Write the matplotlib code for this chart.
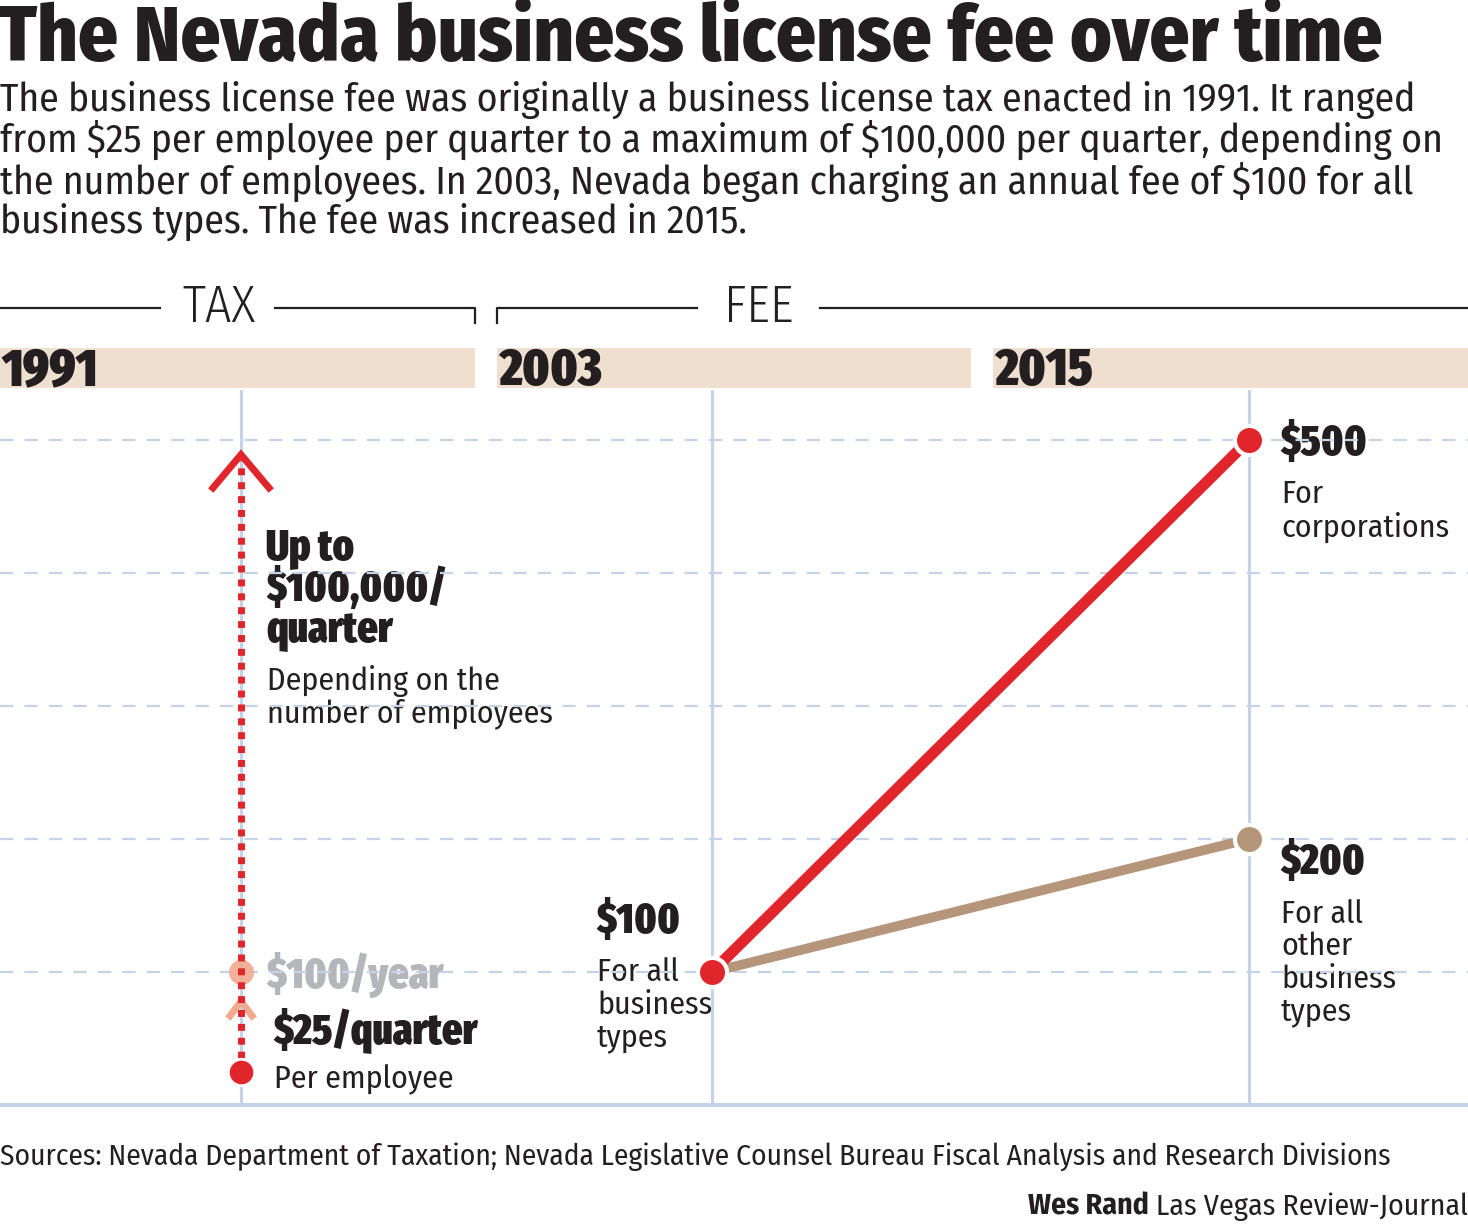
import matplotlib
matplotlib.use("Agg")
import matplotlib.pyplot as plt

# condensed faces with fallbacks
BODY = ["Fira Sans Condensed", "Roboto Condensed", "DejaVu Sans"]
BLACK = ["Fira Sans Extra Condensed", "Roboto Condensed", "DejaVu Sans"]
plt.rcParams["font.family"] = BODY

# ---- data ----
periods = ["1991", "2003", "2015"]
tax_low = 25          # $ per employee per quarter
fee_2003 = 100
fee_2015_corp = 500
fee_2015_other = 200
grid_values = [100, 200, 300, 400, 500]

# layout (pixels)
W, H = 1468, 1229
col_x = [241, 712, 1249]
RED = "#e0262a"
TAN = "#b5967a"
GRID = "#c5d3e8"
BEIGE = "#efdfcf"
INK = "#231f20"

fig = plt.figure(figsize=(W / 100, H / 100), dpi=100)
deco = fig.add_axes([0, 0, 1, 1])
deco.set_xlim(0, W)
deco.set_ylim(H, 0)
deco.axis("off")

# chart axes: y pixel 390 .. 1105, 133 px per $100
top_px, bot_px = 390, 1105
ax = fig.add_axes([0, 1 - bot_px / H, 1, (bot_px - top_px) / H])
ax.set_xlim(0, W)
ax.set_ylim(0, (bot_px - top_px) / 1.33)
ax.axis("off")

# ---- title block ----
deco.text(-2, 61, "The Nevada business license fee over time", fontsize=56.5,
          fontweight=800, family=BODY, color=INK, va="baseline", ha="left")
sub = ("The business license fee was originally a business license tax enacted in 1991. It ranged\n"
       "from \\$25 per employee per quarter to a maximum of \\$100,000 per quarter, depending on\n"
       "the number of employees. In 2003, Nevada began charging an annual fee of \\$100 for all\n"
       "business types. The fee was increased in 2015.")
deco.text(0, 161, sub, fontsize=28.5, color=INK, va="center", ha="left", linespacing=1.035)

# TAX / FEE header
hy = 308
deco.plot([0, 160], [hy, hy], color=INK, lw=1.6)
deco.plot([275, 475, 475], [hy, hy, 323], color=INK, lw=1.6)
deco.plot([497, 497, 697], [323, hy, hy], color=INK, lw=1.6)
deco.plot([820, W], [hy, hy], color=INK, lw=1.6)
deco.text(219, hy, "TAX", fontsize=37, fontweight=300, family=BODY, color=INK,
          ha="center", va="center")
deco.text(759, hy, "FEE", fontsize=37, fontweight=300, family=BODY, color=INK,
          ha="center", va="center")

# year bars
bars = [(0, 475), (497, 971), (993, W)]
for (x0, x1), lab in zip(bars, periods):
    deco.fill_between([x0, x1], 348, 388, color=BEIGE, lw=0)
    deco.text(x0 + 2, 385, lab, fontsize=38, fontweight=900, family=BLACK,
              color=INK, ha="left", va="baseline")

# ---- grid ----
for v in grid_values:
    ax.plot([0, W], [v, v], color=GRID, lw=1.6, ls=(0, (6, 5)), zorder=1)
for x in col_x:
    ax.plot([x, x], [0, ax.get_ylim()[1]], color=GRID, lw=2.2, zorder=1)
ax.plot([0, W], [0, 0], color=GRID, lw=3, zorder=1, clip_on=False)

# ---- 1991 tax ----
x91 = col_x[0]
top_val = 489
ax.plot([x91, x91], [tax_low, top_val - 4], color=RED, lw=5, ls=(0, (1, 1)),
        zorder=3, solid_capstyle="butt")
ax.plot([x91 - 28, x91, x91 + 28], [top_val - 25, top_val, top_val - 25],
        color=RED, lw=5, zorder=3, solid_joinstyle="miter")
ax.plot([x91], [tax_low], "o", ms=19, color=RED, mec="white", mew=2, zorder=4)
# faded $100/year marker
ax.plot([x91], [fee_2003], "o", ms=18, color="#f2a98f", alpha=0.9, zorder=2, mew=0)
ax.plot([x91 - 11, x91, x91 + 11], [fee_2003 - 33, fee_2003 - 22, fee_2003 - 33],
        color="#f2a98f", lw=5, zorder=2)

# ---- fee lines ----
ax.plot(col_x[1:], [fee_2003, fee_2015_corp], color=RED, lw=8, zorder=3,
        solid_capstyle="butt")
ax.plot(col_x[1:], [fee_2003, fee_2015_other], color=TAN, lw=7, zorder=2,
        solid_capstyle="butt")
ax.plot([col_x[1]], [fee_2003], "o", ms=21, color=RED, mec="white", mew=3, zorder=5)
ax.plot([col_x[2]], [fee_2015_corp], "o", ms=21, color=RED, mec="white", mew=3, zorder=5)
ax.plot([col_x[2]], [fee_2015_other], "o", ms=21, color=TAN, mec="white", mew=3, zorder=5)

# ---- annotations (pixel coords) ----
bold = dict(fontweight=900, family=BLACK, color=INK, ha="left", va="center")
reg = dict(color=INK, ha="left", va="center")
deco.text(266, 589, "Up to\n\\$100,000/\nquarter", fontsize=31, linespacing=0.95, **bold)
deco.text(267, 697, "Depending on the\nnumber of employees", fontsize=23,
          linespacing=1.03, **reg)
deco.text(266, 975, "\\$100/year", fontsize=31, fontweight=900, family=BLACK,
          color="#b5b6ba", ha="left", va="center", zorder=5)
deco.text(273, 1030, "\\$25/quarter", fontsize=31, **bold)
deco.text(274, 1080, "Per employee", fontsize=23, **reg)

deco.text(596, 921, "\\$%d" % fee_2003, fontsize=31, **bold)
deco.text(597, 1005, "For all\nbusiness\ntypes", fontsize=23, linespacing=1.1, **reg)

deco.text(1280, 443, "\\$%d" % fee_2015_corp, fontsize=31, **bold)
deco.text(1281, 511, "For\ncorporations", fontsize=23, linespacing=1.08, **reg)
deco.text(1280, 862, "\\$%d" % fee_2015_other, fontsize=31, **bold)
deco.text(1281, 963, "For all\nother\nbusiness\ntypes", fontsize=23,
          linespacing=1.1, **reg)

# ---- footer ----
deco.text(0, 1157, "Sources: Nevada Department of Taxation; Nevada Legislative Counsel "
          "Bureau Fiscal Analysis and Research Divisions", fontsize=21.2, **reg)
credit = deco.text(W, 1207, "Las Vegas Review-Journal", fontsize=21.5, color=INK,
                   ha="right", va="center")
fig.canvas.draw()
bb = credit.get_window_extent().transformed(deco.transData.inverted())
deco.text(min(bb.x0, bb.x1) - 7, 1207, "Wes Rand", fontsize=21.5, fontweight=700,
          color=INK, ha="right", va="center")

fig.savefig("out.png", dpi=100)
